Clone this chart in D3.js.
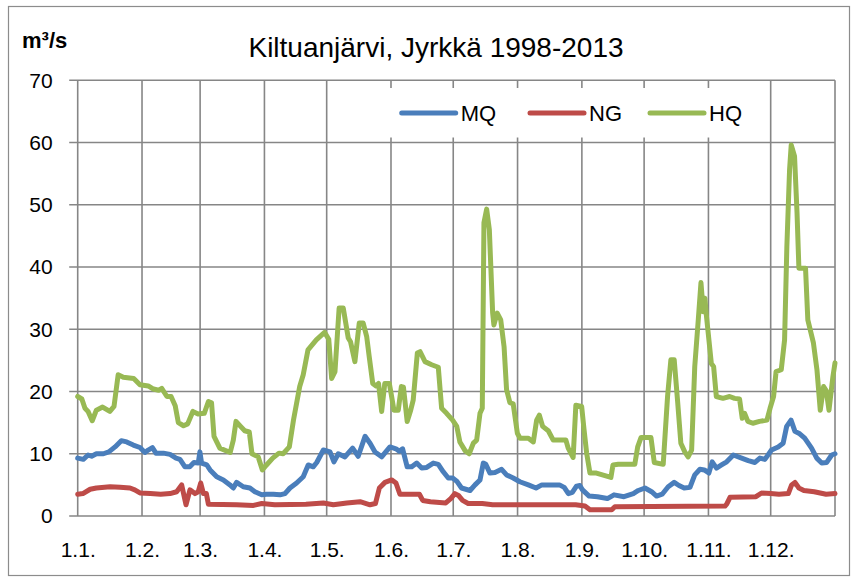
<!DOCTYPE html>
<html>
<head>
<meta charset="utf-8">
<script src="https://cdn.jsdelivr.net/npm/d3@7"></script>
<style>
  body { margin: 0; background: #fff; }
  svg { display: block; font-family: "Liberation Sans", Arial, sans-serif; }
</style>
</head>
<body>
<div id="chart"></div>
<script>
const width = 853;
const height = 578;

// months: day-of-year where each month starts, and the labels shown
const monthStarts = [0, 31, 59, 90, 120, 151, 181, 212, 243, 273, 304, 334];
const monthLabels = ["1.1.", "1.2.", "1.3.", "1.4.", "1.5.", "1.6.", "1.7.", "1.8.", "1.9.", "1.10.", "1.11.", "1.12."];
const yTicks = [0, 10, 20, 30, 40, 50, 60, 70];

// [day of year, m3/s]
const mq = [[0,9.3],[2.7,9.1],[5,9.8],[6.7,9.6],[9,10.0],[12.4,10.0],[15,10.3],[18,11.1],[21,12.1],[23.6,11.9],[26.8,11.4],[30,11.0],[32.4,10.2],[34,10.6],[36,11.0],[37.7,10.1],[41.3,10.1],[44.5,9.9],[47.4,9.3],[49.3,9.1],[51.7,7.9],[54,7.9],[56,8.6],[58.1,8.5],[58.9,10.3],[59.7,8.5],[62.2,8.2],[63.8,7.4],[67,6.3],[70.2,5.8],[73.4,5.0],[75,4.5],[76.6,5.4],[79.8,4.7],[83,4.5],[85.4,3.9],[88.7,3.4],[91,3.5],[94.3,3.5],[97.5,3.4],[99.9,3.6],[102.3,4.5],[105.5,5.3],[108.7,6.3],[111.1,8.2],[113.5,7.9],[115.2,8.6],[118.4,10.6],[121.6,10.3],[123.5,8.7],[125.6,10.0],[128.8,9.5],[132.5,10.9],[135.2,9.6],[138.5,12.8],[140.9,11.7],[143.3,10.3],[146.5,9.5],[150.5,11.1],[153.4,10.8],[155,10.4],[156.6,10.8],[158.8,7.9],[161,7.9],[163.4,8.5],[165.8,7.7],[168.2,7.8],[171.4,8.5],[173.8,8.3],[176.2,7.1],[178.6,6.1],[180.7,6.1],[182.7,5.6],[185,4.5],[189.1,4.1],[191.5,5.0],[193.9,5.8],[195.5,8.5],[196.7,8.3],[198.7,6.9],[201.1,7.0],[204.3,7.5],[206.7,6.6],[209.9,6.1],[213.1,5.5],[217.2,5.0],[220.9,4.5],[223.7,5.0],[232.2,5.0],[234.5,4.6],[236.5,3.6],[238.4,3.8],[240.4,4.8],[242,4.9],[243.3,4.2],[246.5,3.2],[250.5,3.1],[255.3,2.8],[258.5,3.4],[263.3,3.1],[267.8,3.6],[270.2,4.1],[273.4,4.5],[276.6,3.9],[279,3.2],[281.7,3.5],[284.6,4.7],[287.5,5.4],[289.8,4.9],[292.3,4.5],[295.1,4.6],[297.4,6.6],[299.9,7.5],[302,7.4],[304.2,6.9],[305.8,8.7],[307.9,7.7],[310.3,8.2],[312.8,8.7],[316,9.8],[320,9.3],[323.2,8.9],[326.4,8.6],[328.8,9.3],[331.2,9.1],[334.4,10.6],[337.6,11.1],[340,11.7],[341.7,14.4],[343.8,15.4],[345.7,13.6],[348,13.2],[350.4,12.5],[353.7,10.9],[356.2,9.3],[358.6,8.5],[361,8.6],[363.4,9.8],[365,10.0]];

const ng = [[0,3.5],[2.5,3.6],[6,4.3],[9,4.5],[15.6,4.7],[20.4,4.6],[25.2,4.5],[27.5,4.2],[30,3.7],[35,3.6],[40,3.5],[44.5,3.6],[47.7,3.9],[50.1,5.0],[52.2,1.8],[54.1,4.2],[56.5,3.6],[58.1,3.9],[59.3,5.3],[60.6,3.6],[62,3.6],[63,1.9],[76.6,1.8],[84.7,1.7],[88.7,2.0],[95,1.8],[110,1.9],[118.4,2.1],[123.2,1.8],[129.7,2.1],[136.1,2.3],[140.9,1.8],[143.5,2.0],[145.4,4.5],[148.1,5.4],[151.3,5.8],[153.4,5.3],[155.3,3.5],[164.7,3.5],[166.3,2.5],[170,2.3],[177.4,2.1],[179.8,2.8],[181.8,3.6],[183.5,3.3],[185.5,2.5],[188.2,2.0],[195,2.0],[200,1.8],[240,1.8],[244.5,1.6],[246.9,1.0],[257.4,1.0],[258.9,1.5],[312,1.6],[312.8,1.9],[314.4,3.0],[326.9,3.1],[329.6,3.7],[334,3.6],[338,3.5],[342.5,3.6],[344.1,5.0],[345.7,5.4],[347.6,4.5],[350,4.1],[355,3.9],[360.7,3.5],[365,3.6]];

const hq = [[0,19.2],[2,18.8],[3.5,17.3],[5,16.8],[7,15.3],[9,17.0],[12,17.5],[15.5,16.8],[17.5,17.6],[19.5,22.7],[22,22.3],[27,22.1],[30,21.1],[34,20.9],[36.5,20.4],[39,20.2],[40.5,20.5],[43,19.2],[45,19.2],[47,17.7],[48.5,15.0],[51,14.5],[53,14.8],[55.5,16.8],[58,16.4],[61,16.5],[63,18.4],[64.5,18.2],[65.7,12.8],[68.5,10.9],[73.5,10.2],[75,12.2],[76.3,15.2],[78.5,14.4],[80.5,13.7],[82.7,13.5],[84,10.0],[87,9.5],[89,7.4],[91,8.2],[94,9.3],[97,10.1],[99,10.0],[102,11.1],[104,15.4],[107,20.8],[108.7,22.7],[111,26.7],[115,28.3],[119,29.5],[121,28.4],[122.4,22.1],[124,23.2],[126,33.4],[128,33.4],[130.4,28.6],[131.5,28.0],[133.6,24.8],[135.7,31.0],[137.6,31.0],[139.3,28.8],[140.5,25.6],[142.2,21.3],[143.8,20.9],[145,21.3],[146.5,16.8],[148,21.3],[150.2,21.3],[151.3,19.2],[152.4,17.0],[154.5,17.0],[156,20.8],[157,20.7],[158.8,15.2],[160.5,17.0],[161.7,18.6],[163.7,26.2],[165,26.4],[167.4,24.8],[170.6,24.3],[173.8,23.9],[175.4,17.3],[177.8,16.5],[180.7,15.4],[182.7,14.4],[184.2,11.9],[186.7,10.5],[188.7,10.0],[190.7,11.7],[192.3,12.2],[193.9,16.5],[195,17.3],[195.8,47.1],[197.1,49.3],[198.4,46.0],[200,32.6],[200.6,30.7],[202.2,32.6],[203.9,31.5],[205.5,27.2],[206.7,20.3],[208.3,18.2],[209.9,18.0],[211.9,13.3],[213.2,12.5],[217.2,12.5],[219.6,11.9],[221.2,15.4],[222.5,16.2],[224.1,14.4],[226.8,13.7],[229.2,12.2],[235.3,12.2],[236.4,10.9],[238.8,9.4],[240.1,17.8],[242.9,17.6],[244,14.0],[245.3,10.1],[246.9,6.9],[250,6.9],[257,6.2],[258,8.2],[260.5,8.3],[268.5,8.3],[269.9,11.1],[271.5,12.6],[276.3,12.6],[277.9,8.6],[282.2,8.3],[284.3,19.2],[285.9,25.1],[287.5,25.1],[289.1,18.6],[290.7,11.7],[292.6,10.3],[294.2,9.5],[295.9,10.6],[297.4,24.0],[299.1,31.5],[300.4,37.5],[301.5,32.8],[302.3,35.0],[302.9,32.6],[305.4,24.5],[306.5,24.0],[307.8,19.2],[311,18.9],[314.2,19.2],[316.6,18.9],[319,18.8],[320.3,15.7],[321.4,16.5],[323,15.2],[325.4,14.9],[328.6,15.2],[332.2,15.4],[333.7,17.3],[335.4,19.2],[336.6,23.2],[339.1,23.5],[340.7,28.3],[341.8,43.3],[343.1,55.6],[343.9,59.6],[345.5,57.8],[346.7,48.7],[347.6,39.8],[350.8,39.8],[351.9,31.5],[354.6,27.8],[356.3,23.5],[357.9,17.0],[359.5,20.8],[360.8,20.1],[362.1,17.0],[364,22.4],[365,24.6]];

const series = [
    {name: "MQ", values: mq, color: "#4a7ebb"},
    {name: "NG", values: ng, color: "#be4b48"},
    {name: "HQ", values: hq, color: "#98b954"}
];

const plot = {left: 77.7, top: 80.3, right: 835, bottom: 516};
const gridColor = "#868686";

const x = d3.scaleLinear().domain([0, 365]).range([plot.left, plot.right]);
const y = d3.scaleLinear().domain([0, 70]).range([plot.bottom, plot.top]);

const svg = d3.select("#chart")
    .append("svg")
        .attr("width", width)
        .attr("height", height);

// outer chart frame
svg.append("rect")
    .attr("x", 8.5).attr("y", 6.5)
    .attr("width", 841).attr("height", 569)
    .attr("fill", "none")
    .attr("stroke", "#8c8c8c")
    .attr("stroke-width", 1.2);

// horizontal grid, with the little tick stub left of the axis
svg.append("g")
    .selectAll("line")
    .data(yTicks)
    .join("line")
        .attr("x1", plot.left - 8.5)
        .attr("x2", plot.right)
        .attr("y1", d => y(d))
        .attr("y2", d => y(d))
        .attr("stroke", gridColor)
        .attr("stroke-width", 1.6);

// vertical grid at month starts + right border
svg.append("g")
    .selectAll("line")
    .data(monthStarts.concat([365]))
    .join("line")
        .attr("x1", d => x(d))
        .attr("x2", d => x(d))
        .attr("y1", plot.top)
        .attr("y2", plot.bottom)
        .attr("stroke", gridColor)
        .attr("stroke-width", 1.6);

// axes (labels only, grid drawn above)
const yAxis = svg.append("g")
    .attr("transform", `translate(${plot.left},0)`)
    .call(d3.axisLeft(y).tickValues(yTicks).tickSize(0).tickPadding(25));

const xAxis = svg.append("g")
    .attr("transform", `translate(0,${plot.bottom})`)
    .call(d3.axisBottom(x).tickValues(monthStarts)
        .tickFormat((d, i) => monthLabels[i])
        .tickSize(0).tickPadding(26));

[yAxis, xAxis].forEach(a => {
    a.select(".domain").remove();
    a.selectAll("text")
        .attr("font-family", "'Liberation Sans', Arial, sans-serif")
        .attr("font-size", 21)
        .attr("fill", "#000");
});

// legend box (white, hides the grid behind it)
const legend = svg.append("g");
legend.append("rect")
    .attr("x", 388).attr("y", 88)
    .attr("width", 370).attr("height", 49.5)
    .attr("fill", "#fff");

const legendX = [401.7, 530, 650];
series.forEach((s, i) => {
    legend.append("line")
        .attr("x1", legendX[i]).attr("x2", legendX[i] + 54)
        .attr("y1", 113).attr("y2", 113)
        .attr("stroke", s.color)
        .attr("stroke-width", 5)
        .attr("stroke-linecap", "round");
    legend.append("text")
        .attr("x", legendX[i] + 59)
        .attr("y", 121)
        .attr("font-size", 22)
        .text(s.name);
});

// the lines
const line = d3.line()
    .x(d => x(d[0]))
    .y(d => y(d[1]));

svg.append("g")
    .selectAll("path")
    .data(series)
    .join("path")
        .attr("d", d => line(d.values))
        .attr("fill", "none")
        .attr("stroke", d => d.color)
        .attr("stroke-width", 5)
        .attr("stroke-linejoin", "round")
        .attr("stroke-linecap", "round");

// title and unit
svg.append("text")
    .attr("x", 436)
    .attr("y", 57)
    .attr("text-anchor", "middle")
    .attr("font-size", 28)
    .text("Kiltuanjärvi, Jyrkkä 1998-2013");

svg.append("text")
    .attr("x", 22)
    .attr("y", 48)
    .attr("font-size", 22)
    .attr("font-weight", "bold")
    .text("m³/s");
</script>
</body>
</html>
